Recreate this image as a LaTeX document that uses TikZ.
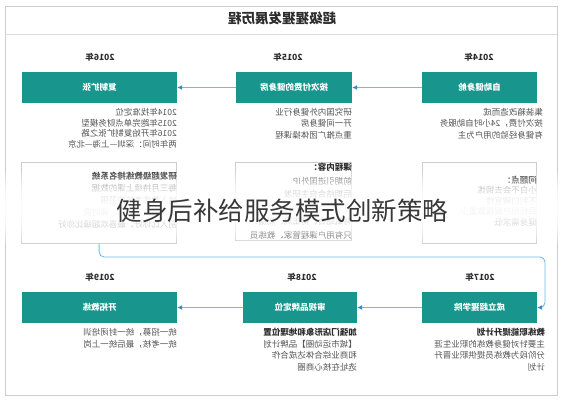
\documentclass[tikz,border=0pt]{standalone}
\usepackage{fontspec}
\setmainfont{Noto Sans CJK SC}
\usetikzlibrary{arrows.meta}

\definecolor{stageteal}{RGB}{24,150,142}
\definecolor{flowblue}{RGB}{110,190,228}
\definecolor{flowtip}{RGB}{50,140,200}
\definecolor{framegray}{RGB}{205,205,205}
\definecolor{bodytext}{RGB}{85,85,85}
\definecolor{headtext}{RGB}{45,45,45}

\tikzset{
  stagebox/.style={fill=stageteal, text=white, inner sep=0pt, minimum height=31pt,
    font=\bfseries\fontsize{8.5}{10}\selectfont},
  yearlbl/.style={text=headtext, font=\bfseries\fontsize{8.5}{10}\selectfont},
  notetext/.style={anchor=north west, align=left, inner sep=0pt, text=bodytext,
    font=\fontsize{8.5}{11.5}\selectfont},
  notebox/.style={draw=framegray, line width=0.7pt, anchor=north west, inner sep=0pt},
  flow/.style={draw=flowblue, line width=0.9pt, -{Latex[length=5pt,width=5pt,color=flowtip]}},
}

\begin{document}
\begin{tikzpicture}[x=1pt,y=1pt]
   \useasboundingbox (0,0) rectangle (565,400);
   \fill[white] (0,0) rectangle (565,400);

   % frame and title rule
   \draw[framegray, line width=0.8pt] (5,5) rectangle (557,394);
   \draw[framegray!70, line width=0.8pt] (5,366) -- (557,366);

   \begin{scope}[xshift=565pt, xscale=-1, every node/.append style={transform shape}]
   \node[text=headtext, font=\bfseries\fontsize{13.5}{15}\selectfont] (title) at (283,382) {超级猩猩发展历程};

   % top row
   \node[yearlbl] (y14) at (86,343) {2014年};
   \node[yearlbl] (y15) at (277,343) {2015年};
   \node[yearlbl] (y16) at (465,343) {2016年};

   \node[stagebox, minimum width=115pt] (s14) at (85.5,312.5) {自助健身舱};
   \node[stagebox, minimum width=116pt] (s15) at (271,312.5) {按次付费的健身房};
   \node[stagebox, minimum width=155pt] (s16) at (465.5,312.5) {复制扩张};

   \node[notetext] (n14) at (22,292) {集装箱改造而成\\按次付费，24小时自助服务\\有健身经验的用户为主};
   \node[notetext] (n15) at (213,292) {研究国内外健身行业\\开一间健身房\\重点推广团体操课程};
   \node[notetext, font=\fontsize{8.5}{10.8}\selectfont] (n16) at (388,292)
     {2014年找准定位\\2015年跑完单点财务模型\\2016年开始复制扩张之路\\两年时间：深圳—上海—北京};

   \node[notebox, minimum width=114pt, minimum height=81pt] (g14) at (28,238) {};
   \node[notebox, minimum width=116pt, minimum height=78pt] (g15) at (213,238) {};
   \node[notebox, minimum width=155pt, minimum height=81pt] (g16) at (388,238) {};

   \node[notetext, font=\fontsize{8.5}{10.5}\selectfont] (t14) at ([yshift=-14pt]g14.north west)
     {\textcolor{headtext}{\textbf{问题点：}}\\小白不会去锻炼\\不利口碑宣传\\目标用户规模数量少\\健身需求低};
   \node[notetext, font=\fontsize{8.5}{13.5}\selectfont] (t15) at ([yshift=-1pt]g15.north west)
     {\textcolor{headtext}{\textbf{课程内容：}}\\前期引进国外IP\\后期结合自主研发\\打造特色团体课程\\有氧结合、搏击风、燃脂：\\\textcolor{headtext}{只有用户课程管家、教练员}};
   \node[notetext, font=\fontsize{8.5}{12}\selectfont] (t16) at ([yshift=-10pt]g16.north west)
     {\textcolor{headtext}{\textbf{研发超级教练排名系统}}\\每三月持续上课的数据\\纳入教练考核的范围\\关系到教练收入、课时费\\别人比你好，最喜欢超级比你好};

   % bottom row
   \node[yearlbl] (y17) at (85,123) {2017年};
   \node[yearlbl] (y18) at (263,123) {2018年};
   \node[yearlbl] (y19) at (465,123) {2019年};

   \node[stagebox, minimum width=115pt] (s17) at (85.5,92.5) {成立超猩学院};
   \node[stagebox, minimum width=114pt] (s18) at (265,92.5) {审视品牌定位};
   \node[stagebox, minimum width=155pt] (s19) at (465.5,92.5) {开拓教练};

   \node[notetext] (n17) at (20,72)
     {\textcolor{headtext}{\textbf{教练职能提升计划}}\\主要针对健身教练的职业生涯\\分阶段为教练员提供职业晋升\\计划};
   \node[notetext] (n18) at (208,72)
     {\textcolor{headtext}{\textbf{加强门店形象和地理位置}}\\【城市运动圈】品牌计划\\和商业综合体达成合作\\选址在核心商圈};
   \node[notetext, font=\fontsize{8.5}{12.5}\selectfont] (n19) at (388,72)
     {统一招募，统一封闭培训\\统一考核，最后统一上岗};

   % connectors
   \draw[flow] (s14.east) -- (s15.west);
   \draw[flow] (s15.east) -- (s16.west);
   \coordinate (turn) at (20,143);
   \draw[flow, rounded corners=5pt] (g16.south) |- (turn) |- (s17.west);
   \draw[flow] (s17.east) -- (s18.west);
   \draw[flow] (s18.east) -- (s19.west);
   \end{scope}

   % fading band behind the caption
   \foreach \k in {0,...,38} {
     \pgfmathsetmacro{\ys}{153+2*\k}
     \pgfmathsetmacro{\op}{max(0,0.95*(1-((\ys+1-192)/38)^2))}
     \fill[white, opacity=\op] (0,\ys) rectangle (565,\ys+2);
   }
   \node[text=black!78, font=\fontsize{25.5}{28}\selectfont] (caption) at (282.5,189) {健身后补给服务模式创新策略};
\end{tikzpicture}
\end{document}
